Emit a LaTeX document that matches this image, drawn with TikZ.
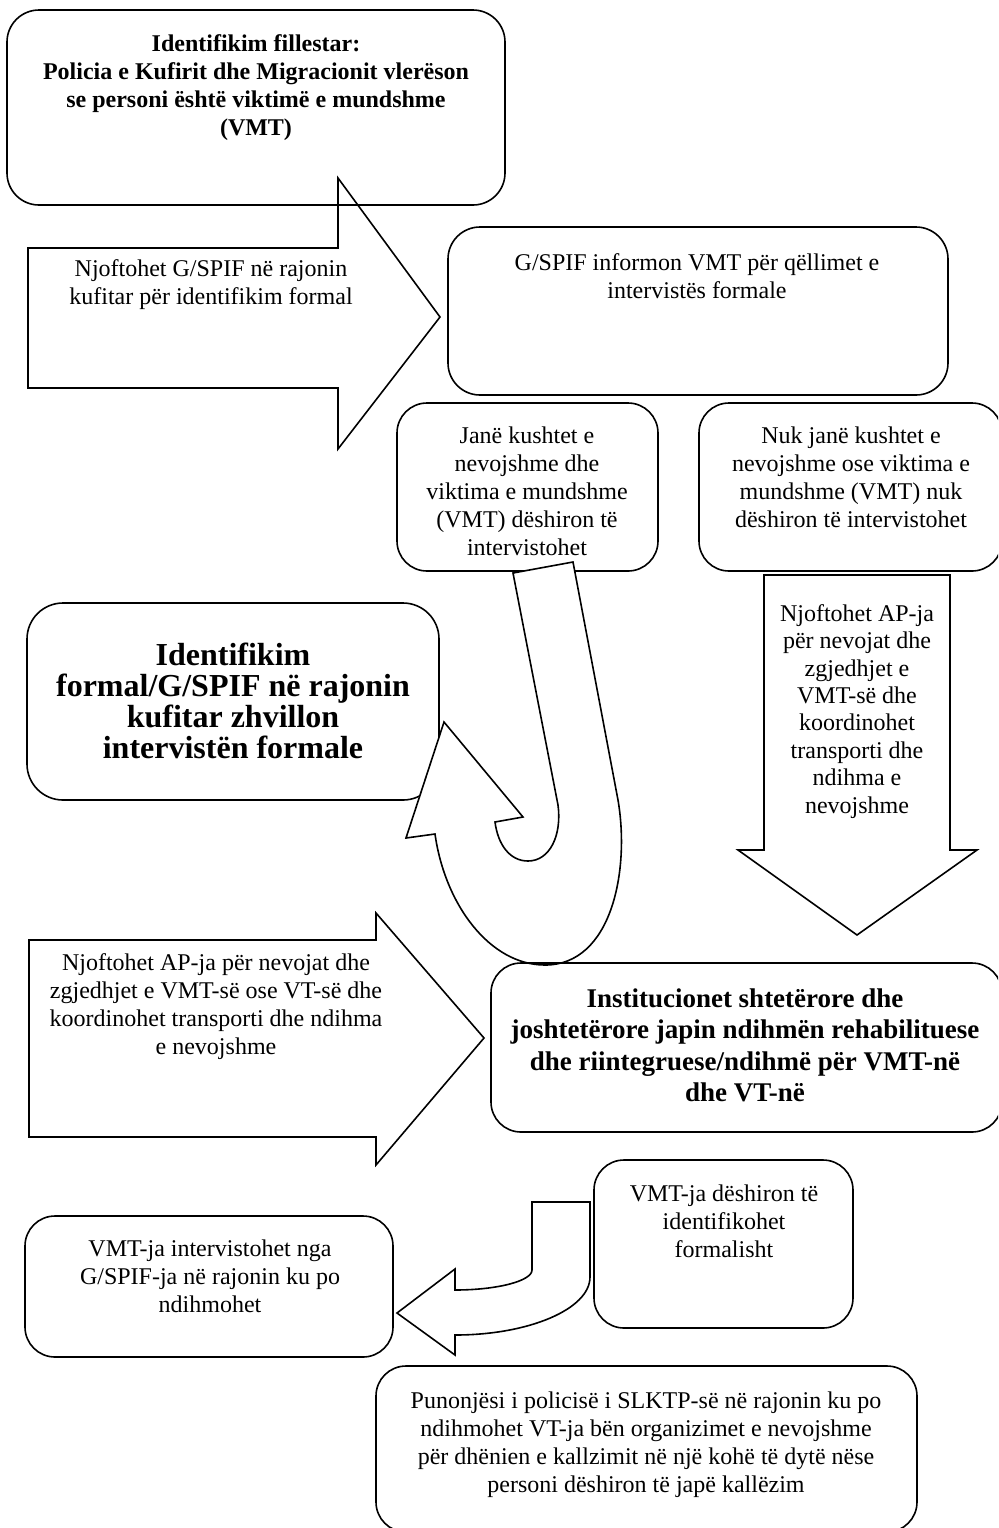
\documentclass[tikz,border=0pt]{standalone}
\usepackage{fontspec}
\setmainfont{Liberation Serif}
\begin{document}
\begin{tikzpicture}[x=0.5pt,y=-0.5pt,
  box/.style={draw,line width=0.8pt,rounded corners=15pt},
  bigbox/.style={box,rounded corners=18pt},
  blockarrow/.style={draw,line width=0.8pt,line join=miter},
  txt/.style={align=center,inner sep=0pt,anchor=north,font=\fontsize{12}{14}\selectfont},
  boldtxt/.style={txt,font=\fontsize{12}{14}\selectfont\bfseries}]
\useasboundingbox (0,0) rectangle (998,1528);
\clip (0,0) rectangle (998,1528);
\draw[blockarrow] (28,248) -- (338,248) -- (338,178) -- (440,317) -- (338,449) -- (338,388) -- (28,388) -- cycle;
\draw[box,rounded corners=16pt] (7,10) rectangle (505,205);
\node[boldtxt] (init) at (256,34) {Identifikim fillestar:\\ Policia e Kufirit dhe Migracionit vlerëson\\ se personi është viktimë e mundshme\\ (VMT)};
\node[txt] (njoft) at (211,259) {Njoftohet G/SPIF në rajonin\\ kufitar për identifikim formal};
\draw[box,rounded corners=16pt] (448,227) rectangle (948,395);
\node[txt] (gspif) at (697,253) {G/SPIF informon VMT për qëllimet e\\ intervistës formale};
\draw[box] (397,403) rectangle (658,571);
\node[txt] (jane) at (527,426) {Janë kushtet e\\ nevojshme dhe\\ viktima e mundshme\\ (VMT) dëshiron të\\ intervistohet};
\draw[box] (699,403) rectangle (1002,571);
\node[txt] (nuk) at (851,426) {Nuk janë kushtet e\\ nevojshme ose viktima e\\ mundshme (VMT) nuk\\ dëshiron të intervistohet};
\draw[blockarrow] (764,575) -- (950,575) -- (950,850) -- (977,850) -- (857,935) -- (738,850) -- (764,850) -- cycle;
\node[txt,font=\fontsize{12}{13.7}\selectfont] (apja) at (857,604) {Njoftohet AP-ja\\ për nevojat dhe\\ zgjedhjet e\\ VMT-së dhe\\ koordinohet\\ transporti dhe\\ ndihma e\\ nevojshme};
\draw[bigbox] (27,603) rectangle (439,800);
\node[boldtxt,font=\fontsize{16}{15.5}\selectfont\bfseries] (formal) at (233,643) {Identifikim\\ formal/G/SPIF në rajonin\\ kufitar zhvillon\\ intervistën formale};
\draw[blockarrow,fill=white] (513,573) -- (573,562) -- (618,800)
  .. controls (630,870) and (612,965) .. (545,965)
  .. controls (490,965) and (445,905) .. (435,834)
  -- (406,838) -- (444,722) -- (523,817) -- (495,822)
  .. controls (498,845) and (510,861) .. (528,861)
  .. controls (550,861) and (562,835) .. (558,805) -- cycle;
\draw[blockarrow] (29,940) -- (376,940) -- (376,913) -- (484,1038) -- (376,1165) -- (376,1137) -- (29,1137) -- cycle;
\node[txt] (apvt) at (216,953) {Njoftohet AP-ja për nevojat dhe\\ zgjedhjet e VMT-së ose VT-së dhe\\ koordinohet transporti dhe ndihma\\ e nevojshme};
\draw[box] (491,963) rectangle (1002,1132);
\node[boldtxt,font=\fontsize{13.5}{15.8}\selectfont\bfseries] (inst) at (745,988) {Institucionet shtetërore dhe\\ joshtetërore japin ndihmën rehabilituese\\ dhe riintegruese/ndihmë për VMT-në\\ dhe VT-në};
\draw[box] (594,1160) rectangle (853,1328);
\node[txt] (deshiron) at (724,1184) {VMT-ja dëshiron të\\ identifikohet\\ formalisht};
\draw[box] (25,1216) rectangle (393,1357);
\node[txt] (interv) at (210,1239) {VMT-ja intervistohet nga\\ G/SPIF-ja në rajonin ku po\\ ndihmohet};
\draw[blockarrow,fill=white] (532,1202) -- (590,1202) -- (590,1277)
  .. controls (590,1309) and (529,1335) .. (455,1335)
  -- (455,1355) -- (397,1313) -- (455,1269) -- (455,1290)
  .. controls (497,1290) and (532,1281) .. (532,1270) -- cycle;
\draw[box] (376,1366) rectangle (917,1532);
\node[txt] (police) at (646,1391) {Punonjësi i policisë i SLKTP-së në rajonin ku po\\ ndihmohet VT-ja bën organizimet e nevojshme\\ për dhënien e kallzimit në një kohë të dytë nëse\\ personi dëshiron të japë kallëzim};
\end{tikzpicture}
\end{document}
